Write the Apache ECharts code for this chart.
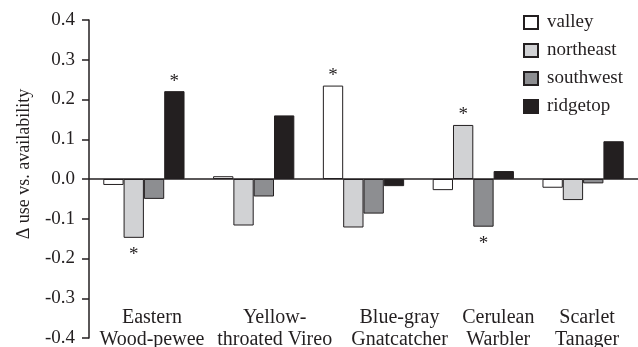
<!DOCTYPE html>
<html><head><meta charset="utf-8">
<script src="https://cdn.jsdelivr.net/npm/echarts@6/dist/echarts.min.js"></script>
<style>html,body{margin:0;padding:0;background:#fff}#c{width:638px;height:347px}</style>
</head><body><div id="c"></div>
<script>
var categories = ['Eastern\nWood-pewee', 'Yellow-\nthroated Vireo', 'Blue-gray\nGnatcatcher', 'Cerulean\nWarbler', 'Scarlet\nTanager'];
var seriesNames = ['valley', 'northeast', 'southwest', 'ridgetop'];
var valley = [-0.015, 0.007, 0.235, -0.028, -0.022];
var northeast = [-0.148, -0.117, -0.122, 0.136, -0.053];
var southwest = [-0.050, -0.044, -0.087, -0.120, -0.011];
var ridgetop = [0.221, 0.160, -0.018, 0.020, 0.095];
var valleySig = [0, 0, 1, 0, 0];
var northeastSig = [1, 0, 0, 1, 0];
var southwestSig = [0, 0, 0, 1, 0];
var ridgetopSig = [1, 0, 0, 0, 0];
var yTicks = [-0.4, -0.3, -0.2, -0.1, 0.0, 0.1, 0.2, 0.3, 0.4];

// label horizontal shift (px) of each category label in the original layout
var labelShiftPx = [8, 21, 36, 25, 4];

var FONT = '"Liberation Serif", "Times New Roman", serif';
var colors = ['#ffffff', '#d1d2d4', '#8d8e91', '#231f20'];
var allVals = [valley, northeast, southwest, ridgetop];
var allSig = [valleySig, northeastSig, southwestSig, ridgetopSig];

function buildData(vals, sig) {
  return vals.map(function (v, i) {
    if (!sig[i]) return v;
    return {
      value: v,
      label: {
        show: true, formatter: '*', position: v >= 0 ? 'top' : 'bottom',
        distance: v >= 0 ? 0 : 8,
        fontFamily: FONT, fontSize: 19, color: '#231f20'
      }
    };
  });
}

var series = seriesNames.map(function (name, k) {
  var s = {
    name: name, type: 'bar',
    data: buildData(allVals[k], allSig[k]),
    barGap: '0%', barCategoryGap: '26%',
    itemStyle: { color: colors[k], borderColor: '#231f20', borderWidth: 1 },
    emphasis: { disabled: true },
    animation: false
  };
  if (k === 0) {
    s.markLine = {
      silent: true, symbol: ['none', 'none'], animation: false,
      label: { show: false },
      lineStyle: { color: '#231f20', width: 1.5, type: 'solid' },
      data: [{ yAxis: 0 }]
    };
  }
  return s;
});

var xData = categories.map(function (c, i) {
  return { value: c, textStyle: { padding: [0, 0, 0, labelShiftPx[i] * 2] } };
});

var chart = echarts.init(document.getElementById('c'));
chart.setOption({
  animation: false,
  backgroundColor: '#ffffff',
  grid: { left: 89, right: 0, top: 20, bottom: 9, containLabel: false, outerBoundsMode: 'none' },
  legend: {
    orient: 'vertical', left: 518, top: 8,
    itemWidth: 14, itemHeight: 13, itemGap: 9,
    icon: 'rect',
    data: seriesNames,
    textStyle: { fontFamily: FONT, fontSize: 19, color: '#231f20', padding: [0, 0, 0, 4] }
  },
  xAxis: {
    type: 'category', data: xData, position: 'bottom',
    axisLine: { show: false }, axisTick: { show: false },
    axisLabel: {
      inside: true, margin: -13, interval: 0,
      fontFamily: FONT, fontSize: 20, lineHeight: 22, color: '#231f20'
    }
  },
  yAxis: {
    type: 'value', min: -0.4, max: 0.4, interval: 0.1,
    name: 'Δ use vs. availability', nameLocation: 'middle', nameGap: 56,
    nameTextStyle: { fontFamily: FONT, fontSize: 18, color: '#231f20', padding: [0, 0, 0, 30] },
    splitLine: { show: false },
    axisLine: { show: true, lineStyle: { color: '#231f20', width: 1.5 } },
    axisTick: { show: true, length: 7, lineStyle: { color: '#231f20', width: 1.5 } },
    axisLabel: {
      margin: 14, fontFamily: FONT, fontSize: 19, color: '#231f20',
      customValues: yTicks,
      formatter: function (v) { return v.toFixed(1); }
    }
  },
  series: series
});
</script>
</body></html>
